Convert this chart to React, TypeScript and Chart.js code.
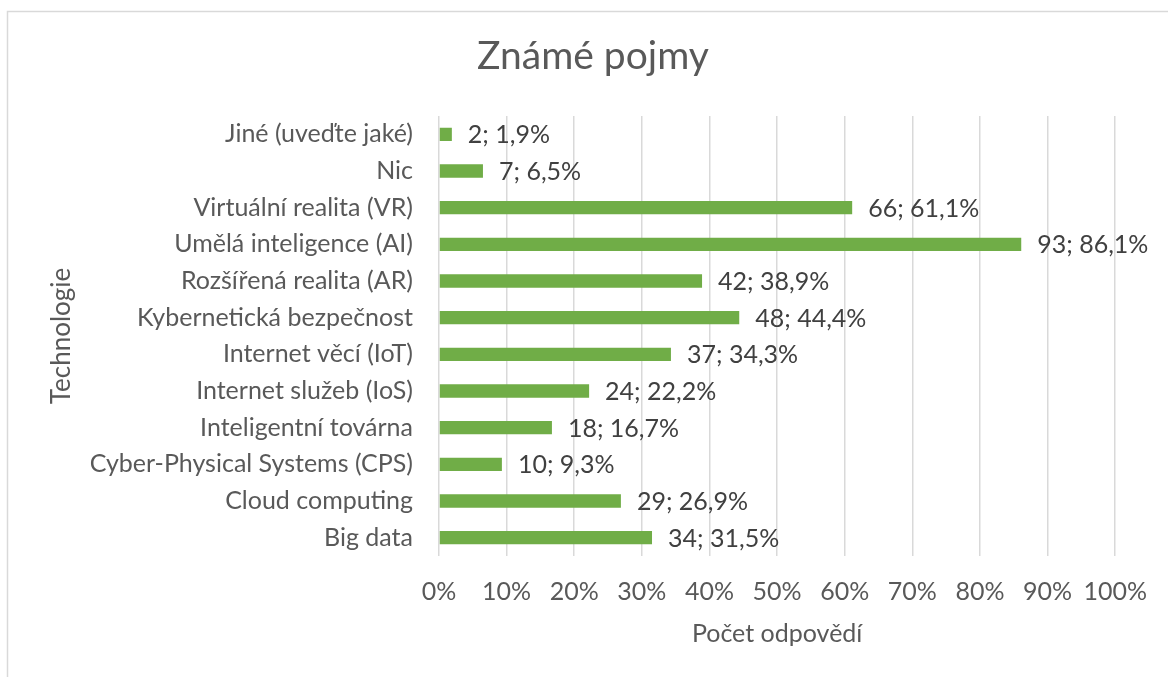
import React, { useEffect, useRef } from "react";
import { Chart, registerables } from "chart.js";

Chart.register(...registerables);

const categories = [
  "Jiné (uveďte jaké)",
  "Nic",
  "Virtuální realita (VR)",
  "Umělá inteligence (AI)",
  "Rozšířená realita (AR)",
  "Kybernetická bezpečnost",
  "Internet věcí (IoT)",
  "Internet služeb (IoS)",
  "Inteligentní továrna",
  "Cyber-Physical Systems (CPS)",
  "Cloud computing",
  "Big data",
];
const counts = [2, 7, 66, 93, 42, 48, 37, 24, 18, 10, 29, 34];
const percents = [1.9, 6.5, 61.1, 86.1, 38.9, 44.4, 34.3, 22.2, 16.7, 9.3, 26.9, 31.5];
const percentLabels = ["1,9%", "6,5%", "61,1%", "86,1%", "38,9%", "44,4%", "34,3%", "22,2%", "16,7%", "9,3%", "26,9%", "31,5%"];

const chartTitle = "Známé pojmy";
const xTitle = "Počet odpovědí";
const yTitle = "Technologie";

const FONT = "Lato, 'Open Sans', sans-serif";
const TICK_SIZE = 25;

const decorPlugin = {
  id: "decor",
  beforeDraw(chart: any) {
    const ctx = chart.ctx;
    ctx.save();
    ctx.fillStyle = "#ffffff";
    ctx.fillRect(0, 0, chart.width, chart.height);
    ctx.strokeStyle = "#d9d9d9";
    ctx.lineWidth = 1.5;
    ctx.beginPath();
    ctx.moveTo(7.5, chart.height + 5);
    ctx.lineTo(7.5, 11.5);
    ctx.lineTo(chart.width + 5, 11.5);
    ctx.stroke();
    ctx.restore();
  },
  afterDatasetsDraw(chart: any) {
    const ctx = chart.ctx;
    const meta = chart.getDatasetMeta(0);
    ctx.save();
    ctx.font = `${TICK_SIZE}px ${FONT}`;
    ctx.fillStyle = "#404040";
    ctx.textAlign = "left";
    ctx.textBaseline = "middle";
    meta.data.forEach((bar: any, i: number) => {
      ctx.fillText(`${counts[i]}; ${percentLabels[i]}`, bar.x + 16, bar.y + 1);
    });
    ctx.restore();
  },
  afterDraw(chart: any) {
    const ctx = chart.ctx;
    const area = chart.chartArea;
    ctx.save();
    ctx.fillStyle = "#595959";
    ctx.textAlign = "center";
    ctx.textBaseline = "alphabetic";
    ctx.font = `39px ${FONT}`;
    ctx.fillText(chartTitle, 593, 69);
    ctx.font = `${TICK_SIZE}px ${FONT}`;
    ctx.fillText(xTitle, (area.left + area.right) / 2, 642);
    ctx.font = `26px ${FONT}`;
    ctx.translate(70, (area.top + area.bottom) / 2);
    ctx.rotate(-Math.PI / 2);
    ctx.fillText(yTitle, 0, 0);
    ctx.restore();
  },
};

export default function App() {
  const ref = useRef<HTMLCanvasElement | null>(null);

  useEffect(() => {
    if (!ref.current) return;
    const chart = new Chart(ref.current, {
      type: "bar",
      data: {
        labels: categories,
        datasets: [
          {
            data: percents,
            backgroundColor: "#70AD47",
            borderWidth: 0,
            categoryPercentage: 1,
            barPercentage: 0.365,
          },
        ],
      },
      options: {
        indexAxis: "y",
        animation: false,
        responsive: false,
        layout: { padding: { left: 0, top: 116, right: 49, bottom: 0 } },
        plugins: {
          legend: { display: false },
          title: { display: false },
          tooltip: { enabled: false },
        },
        scales: {
          x: {
            min: 0,
            max: 100,
            afterFit(scale: any) {
              scale.height = 121;
            },
            ticks: {
              stepSize: 10,
              callback: (v: any) => `${v}%`,
              color: "#595959",
              font: { family: FONT, size: TICK_SIZE },
              padding: 21,
              maxRotation: 0,
              autoSkip: false,
            },
            grid: { color: "#d9d9d9", lineWidth: 1.5, drawTicks: false },
            border: { display: false },
          },
          y: {
            afterFit(scale: any) {
              scale.width = 439;
            },
            ticks: {
              color: "#595959",
              font: { family: FONT, size: TICK_SIZE },
              padding: 26,
              autoSkip: false,
            },
            grid: { display: false, drawTicks: false },
            border: { display: false },
          },
        },
      },
      plugins: [decorPlugin],
    });
    return () => chart.destroy();
  }, []);

  return (
    <div style={{ position: "fixed", left: 0, top: 0, width: 1168, height: 677, background: "#fff" }}>
      <canvas ref={ref} width={1168} height={677} style={{ width: 1168, height: 677, display: "block" }} />
    </div>
  );
}
